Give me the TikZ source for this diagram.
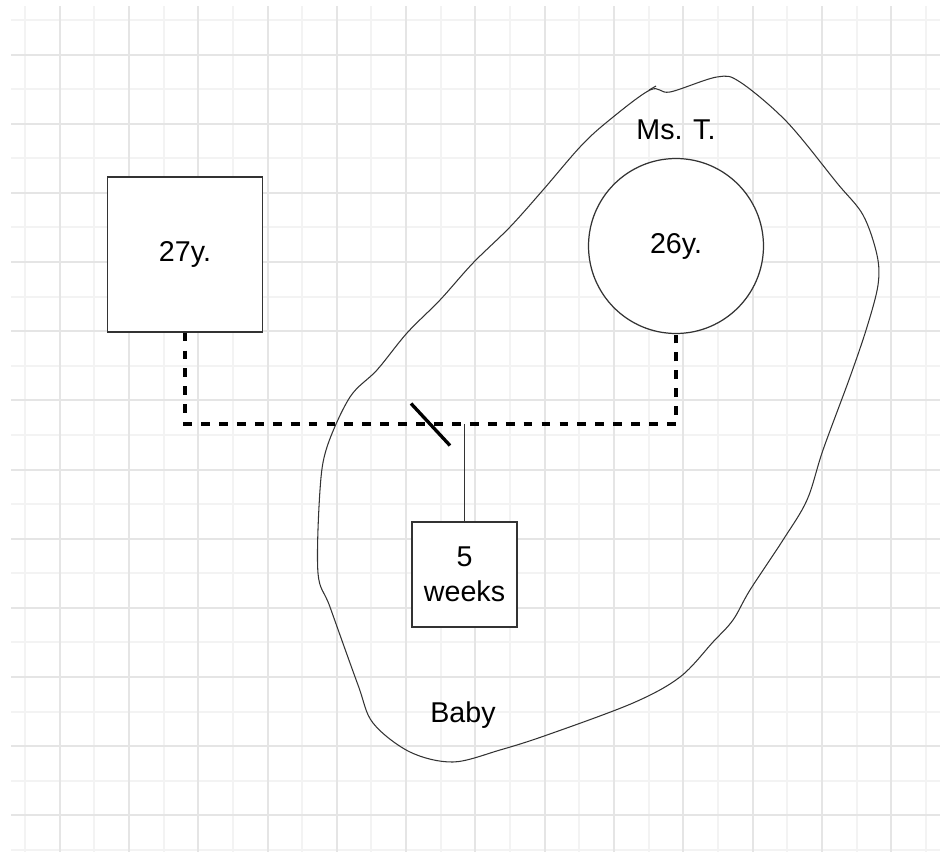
\documentclass[tikz,border=0pt]{standalone}
\usepackage{fontspec}
\setmainfont{Liberation Sans}
\usetikzlibrary{positioning, calc}
\definecolor{gridlight}{RGB}{243,243,243}
\definecolor{griddark}{RGB}{229,229,229}
\definecolor{ink}{RGB}{51,51,51}
\tikzstyle{person} = [draw=ink, line width=0.7pt, fill=white, align=center, inner sep=0pt, text=black, font=\fontsize{16.3}{20}\selectfont]
\tikzstyle{partner} = [black, line width=1.8pt, dash pattern=on 5pt off 5.2pt]

\begin{document}
\begin{tikzpicture}[x=0.02cm, y=-0.02cm,
    male/.style={person, rectangle, minimum size=3.1cm},
    female/.style={person, circle, minimum size=3.5cm},
    kid/.style={person, rectangle, minimum size=2.1cm},
    caption/.style={font=\fontsize{16.3}{20}\selectfont, text=black, inner sep=0pt},
    paper/.style={line width=0.04cm},
    descent/.style={draw=ink, line width=0.7pt},
    divorce/.style={black, line width=1.9pt},
    outline/.style={draw=ink, line width=0.6pt}
  ]
    \useasboundingbox (0,0) rectangle (940,852);

    % Squared paper
    \foreach \k in {0,2,...,26} \draw[paper, gridlight] ({round(25+34.65*\k)},6) -- ({round(25+34.65*\k)},852);
    \foreach \k in {0,2,...,24} \draw[paper, gridlight] (11,{round(20+34.58*\k)}) -- (940,{round(20+34.58*\k)});
    \foreach \k in {1,3,...,25} \draw[paper, griddark] ({round(25+34.65*\k)},6) -- ({round(25+34.65*\k)},852);
    \foreach \k in {1,3,...,23} \draw[paper, griddark] (11,{round(20+34.58*\k)}) -- (940,{round(20+34.58*\k)});

    % Household outline
    \draw[outline] plot[smooth cycle, tension=0.55] coordinates {
      (650,90) (670,92) (717,77) (740,82) (787,122) (837,183) (863,215)
      (877,255) (878,285) (867,327) (850,377) (823,450) (807,500) (783,540)
      (750,590) (733,620) (713,642) (680,677) (633,703) (547,735) (500,750)
      (453,762) (410,752) (373,723) (358,685) (330,607) (318,573) (320,490)
      (327,447) (350,397) (377,370) (407,333) (440,300) (473,263) (510,227)
      (543,190) (580,147) (607,122)};
    \draw[outline] (649,90) -- (656,86);

    % Persons
    \node[male]   (father) at (185,254.5) {27y.};
    \node[female] (mother) at (676,246) {26y.};
    \node[kid]    (child)  at (464.5,574.5) {5\\weeks};

    % Labels
    \node[caption, anchor=base] (msT)  at (676,139) {Ms. T.};
    \node[caption, anchor=base] (baby) at (463,722) {Baby};

    % Relationship line and separation mark
    \coordinate (rel) at (464.5,424);
    \coordinate (cut) at (430.5,424.5);
    \draw[partner] (father.south) |- (rel) -| (mother.south);
    \draw[divorce] ($(cut)+(-19.5,-21)$) -- ($(cut)+(19.5,21)$);
    \draw[descent] (rel) -- (child.north);
  \end{tikzpicture}
\end{document}
